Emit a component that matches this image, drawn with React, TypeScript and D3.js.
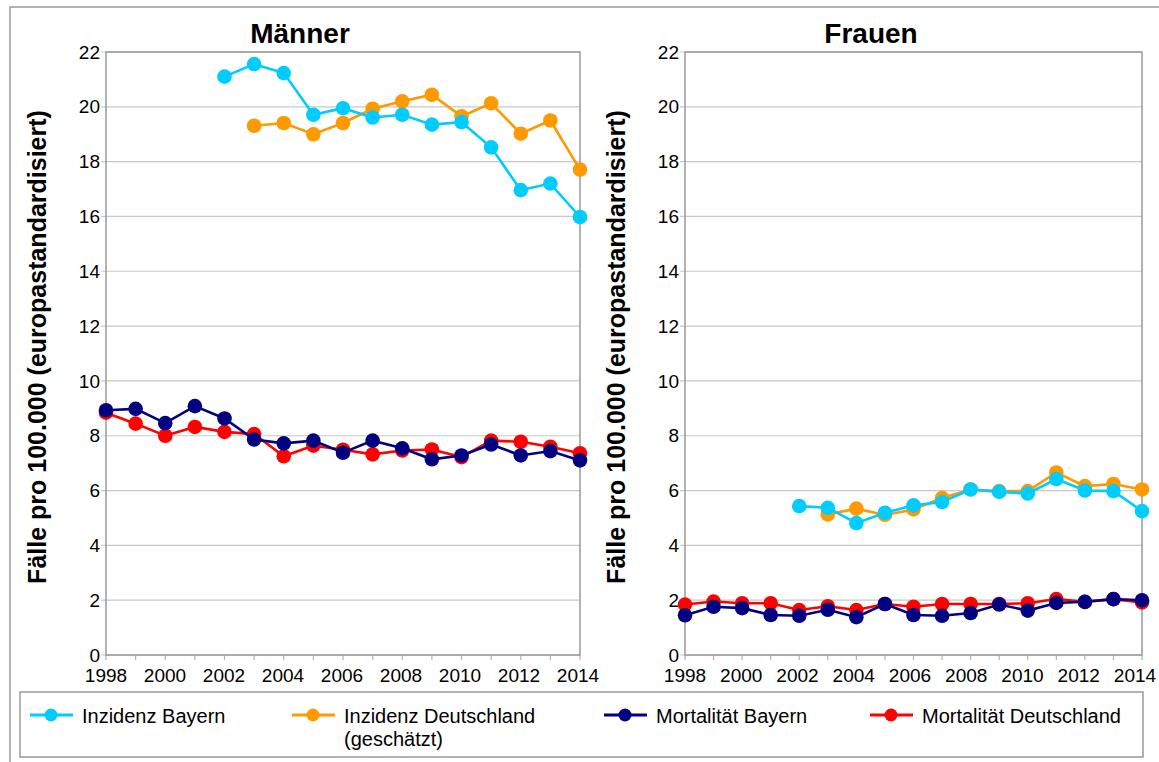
import React from 'react';
import * as d3 from 'd3';

// years on the x axis
const years = [1998, 1999, 2000, 2001, 2002, 2003, 2004, 2005, 2006, 2007, 2008, 2009, 2010, 2011, 2012, 2013, 2014];
const yTicks = [0, 2, 4, 6, 8, 10, 12, 14, 16, 18, 20, 22];
const xLabelYears = [1998, 2000, 2002, 2004, 2006, 2008, 2010, 2012, 2014];

const seriesNames = ['Inzidenz Bayern', 'Inzidenz Deutschland', 'Mortalität Bayern', 'Mortalität Deutschland'];
const seriesColors = ['#00ccff', '#ff9900', '#000080', '#ff0000'];

// Männer
const mInzBayern = [null, null, null, null, 21.1, 21.56, 21.23, 19.71, 19.95, 19.61, 19.71, 19.35, 19.44, 18.52, 16.96, 17.2, 15.98];
const mInzDeutschland = [null, null, null, null, null, 19.31, 19.41, 19.0, 19.41, 19.93, 20.2, 20.44, 19.65, 20.13, 19.02, 19.5, 17.71];
const mMortBayern = [8.93, 8.98, 8.46, 9.08, 8.63, 7.86, 7.72, 7.82, 7.38, 7.82, 7.54, 7.14, 7.28, 7.68, 7.28, 7.44, 7.1];
const mMortDeutschland = [8.84, 8.44, 8.0, 8.32, 8.14, 8.06, 7.25, 7.64, 7.49, 7.32, 7.46, 7.5, 7.22, 7.82, 7.78, 7.6, 7.36];

// Frauen
const fInzBayern = [null, null, null, null, 5.43, 5.37, 4.81, 5.19, 5.46, 5.58, 6.04, 5.95, 5.89, 6.42, 6.0, 5.98, 5.25];
const fInzDeutschland = [null, null, null, null, null, 5.13, 5.34, 5.11, 5.31, 5.73, 6.04, 5.98, 5.98, 6.66, 6.16, 6.24, 6.04];
const fMortBayern = [1.45, 1.76, 1.71, 1.46, 1.43, 1.65, 1.38, 1.86, 1.46, 1.43, 1.53, 1.84, 1.62, 1.9, 1.94, 2.04, 2.0];
const fMortDeutschland = [1.84, 1.95, 1.89, 1.89, 1.64, 1.78, 1.64, 1.86, 1.76, 1.86, 1.86, 1.86, 1.89, 2.04, 1.94, 2.04, 1.92];

const FONT = '"Liberation Sans", Arial, sans-serif';
const AXIS_LABEL = 'Fälle pro 100.000 (europastandardisiert)';

type PanelProps = {
  title: string;
  titleX: number;
  data: (number | null)[][];
  left: number;
  right: number;
  labelX: number;
  labelShift: number;
};

const Panel = ({ title, titleX, data, left, right, labelX, labelShift }: PanelProps) => {
  const top = 52;
  const bottom = 655;
  const x = d3.scaleLinear().domain([1998, 2014]).range([left, right]);
  const y = d3.scaleLinear().domain([0, 22]).range([bottom, top]);

  const line = d3.line<number | null>()
    .defined(d => d !== null)
    .x((d, i) => x(years[i]))
    .y(d => y(d as number));

  // draw in reverse legend order so Inzidenz Bayern ends up on top
  const order = [3, 2, 1, 0];

  return (
    <g>
      {yTicks.map(t => (
        <g key={t}>
          <line x1={left - 5} x2={right} y1={y(t)} y2={y(t)} stroke="#c8c8c8" strokeWidth={1.2} />
          <text x={left - 6} y={y(t)} dy="0.35em" textAnchor="end" fontSize={19} fontFamily={FONT} fill="#000">{t}</text>
        </g>
      ))}
      {years.map(yr => (
        <line key={yr} x1={x(yr)} x2={x(yr)} y1={bottom} y2={bottom + 5} stroke="#b3b3b3" strokeWidth={1.2} />
      ))}
      {xLabelYears.map(yr => (
        <text key={yr} x={x(yr) - labelShift * (yr - 1998) / 16} y={bottom + 27} textAnchor="middle" fontSize={19} fontFamily={FONT} fill="#000">{yr}</text>
      ))}
      <rect x={left} y={top} width={right - left} height={bottom - top} fill="none" stroke="#999" strokeWidth={1.5} />

      {order.map(si => (
        <g key={si}>
          <path d={line(data[si]) || ''} fill="none" stroke={seriesColors[si]} strokeWidth={2.6} />
          {data[si].map((v, i) => v === null ? null : (
            <circle key={i} cx={x(years[i])} cy={y(v)} r={7.3} fill={seriesColors[si]} />
          ))}
        </g>
      ))}

      <text x={titleX} y={43} textAnchor="middle" fontSize={28} fontWeight="bold" fontFamily={FONT} fill="#000">{title}</text>
      <text transform={`translate(${labelX},347) rotate(-90)`} textAnchor="middle" fontSize={25} fontWeight="bold" fontFamily={FONT} fill="#000">{AXIS_LABEL}</text>
    </g>
  );
};

const legendItems = [
  { x: 30, lines: ['Inzidenz Bayern'] },
  { x: 292, lines: ['Inzidenz Deutschland', '(geschätzt)'] },
  { x: 604, lines: ['Mortalität Bayern'] },
  { x: 870, lines: ['Mortalität Deutschland'] },
];

const App = () => {
  return (
    <svg width={1159} height={762} style={{ position: 'absolute', left: 0, top: 0, background: '#fff' }}>
      <rect x={10} y={7} width={1160} height={770} fill="#fff" stroke="#999" strokeWidth={1.5} />
      <Panel title="Männer" titleX={300} data={[mInzBayern, mInzDeutschland, mMortBayern, mMortDeutschland]} left={106} right={580} labelX={46} labelShift={2} />
      <Panel title="Frauen" titleX={871} data={[fInzBayern, fInzDeutschland, fMortBayern, fMortDeutschland]} left={685} right={1142} labelX={625} labelShift={7} />

      <rect x={20} y={692} width={1123} height={65} fill="#fff" stroke="#999" strokeWidth={1.5} />
      {legendItems.map((item, i) => (
        <g key={i}>
          <line x1={item.x} x2={item.x + 43} y1={715} y2={715} stroke={seriesColors[i]} strokeWidth={3} />
          <circle cx={item.x + 21} cy={715} r={6.5} fill={seriesColors[i]} />
          {item.lines.map((t, j) => (
            <text key={j} x={item.x + 52} y={716 + j * 23} dy="0.35em" fontSize={20} fontFamily={FONT} fill="#000">{t}</text>
          ))}
        </g>
      ))}
    </svg>
  );
};

export default App;
